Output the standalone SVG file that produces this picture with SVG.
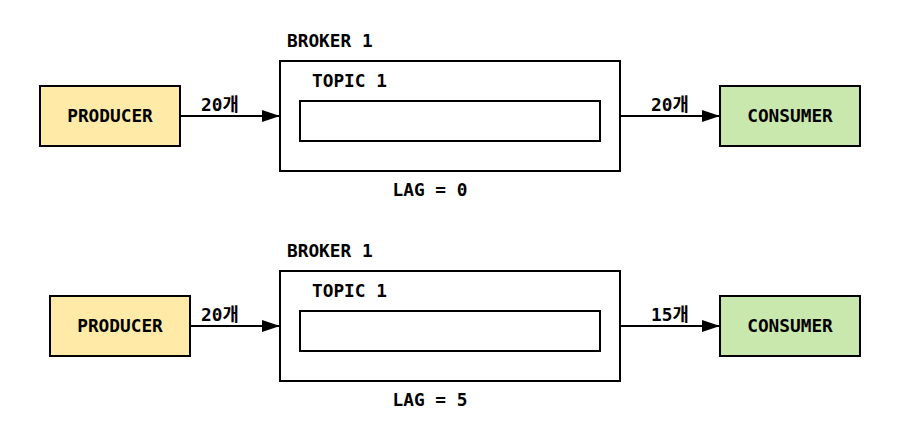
<svg xmlns="http://www.w3.org/2000/svg" width="900" height="440" viewBox="0 0 900 440">
<defs>
<style>
text{font-family:"DejaVu Sans Mono","Noto Sans CJK KR",monospace;font-weight:bold;font-size:17.8px;fill:#000}
.c{text-anchor:middle}
.prod{fill:#FFEAA7;stroke:#000;stroke-width:2}
.cons{fill:#C9E8AE;stroke:#000;stroke-width:2}
.box{fill:#fff;stroke:#000;stroke-width:2}
.ln{stroke:#000;stroke-width:2;fill:none;marker-end:url(#ah)}
</style>
<marker id="ah" markerWidth="18" markerHeight="12" refX="17" refY="6" orient="auto" markerUnits="userSpaceOnUse">
<path d="M0,0 L18,6 L0,12 z" fill="#000"/>
</marker>
</defs>
<rect width="900" height="440" fill="#fff"/>
<g id="producer1"><rect class="prod" x="40" y="86" width="140" height="60"/><text class="c" x="110" y="122">PRODUCER</text></g>
<g id="broker1"><text x="287" y="47">BROKER 1</text><rect class="box" x="280" y="61" width="340" height="110"/><text x="312" y="87">TOPIC 1</text></g>
<g id="topic1"><rect class="box" x="300" y="101" width="300" height="40"/></g>
<g id="consumer1"><rect class="cons" x="720" y="86" width="140" height="60"/><text class="c" x="790" y="122">CONSUMER</text></g>
<g id="lag1"><text class="c" x="430" y="196">LAG = 0</text></g>
<g id="producer2"><rect class="prod" x="50" y="296" width="140" height="60"/><text class="c" x="120" y="332">PRODUCER</text></g>
<g id="broker2"><text x="287" y="257">BROKER 1</text><rect class="box" x="280" y="271" width="340" height="110"/><text x="312" y="297">TOPIC 1</text></g>
<g id="topic2"><rect class="box" x="300" y="311" width="300" height="40"/></g>
<g id="consumer2"><rect class="cons" x="720" y="296" width="140" height="60"/><text class="c" x="790" y="332">CONSUMER</text></g>
<g id="lag2"><text class="c" x="430" y="406">LAG = 5</text></g>
<g id="connectors">
<path class="ln" d="M180,116 H279"/>
<path class="ln" d="M620,116 H719"/>
<path class="ln" d="M190,326 H279"/>
<path class="ln" d="M620,326 H719"/>
<text x="201" y="111">20개</text>
<text x="651" y="111">20개</text>
<text x="201" y="321">20개</text>
<text x="651" y="321">15개</text>
</g>
</svg>
